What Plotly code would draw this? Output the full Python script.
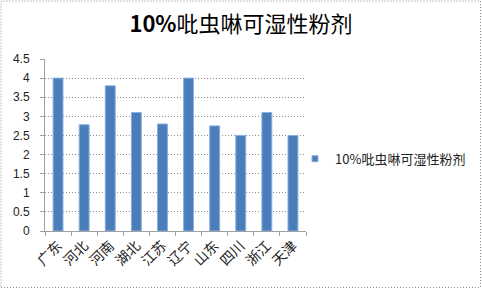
import plotly.graph_objects as go

categories = ["广东", "河北", "河南", "湖北", "江苏", "辽宁", "山东", "四川", "浙江", "天津"]
values = [4.0, 2.78, 3.8, 3.1, 2.8, 4.0, 2.75, 2.5, 3.1, 2.5]
series_name = "10%吡虫啉可湿性粉剂"
y_ticks = [0, 0.5, 1, 1.5, 2, 2.5, 3, 3.5, 4, 4.5]
y_tick_labels = ["0", "0.5", "1", "1.5", "2", "2.5", "3", "3.5", "4", "4.5"]

W, H = 482, 289
L, R, T, B = 45, 306, 59, 231
BAR_COLOR = "#4A7EBB"

fig = go.Figure()
fig.add_trace(go.Bar(
    x=categories, y=values, name=series_name,
    marker=dict(color=BAR_COLOR, line=dict(color="#8AB0DE", width=1)),
    showlegend=False,
))
fig.add_trace(go.Scatter(
    x=[None], y=[None], mode="markers", name=series_name,
    marker=dict(symbol="square", size=6, color=BAR_COLOR,
                line=dict(color="#8AB0DE", width=1)),
    showlegend=True,
))

pw, ph = R - L, B - T
fig.add_shape(type="rect", xref="paper", yref="paper",
              x0=(1 - L) / pw, x1=(W - 1.5 - L) / pw,
              y0=(B - (H - 1.5)) / ph, y1=(B - 1) / ph,
              line=dict(color="#8C8C8C", width=1, dash="1px,2px"), layer="below")

fig.update_layout(
    width=W, height=H, autosize=False,
    margin=dict(l=L, r=W - R, t=T, b=H - B, autoexpand=False),
    paper_bgcolor="white", plot_bgcolor="white",
    title=dict(text="<b>10%</b>吡虫啉可湿性粉剂", x=0.5, xanchor="center",
               y=1 - 24 / H, yanchor="middle",
               font=dict(family="Noto Sans CJK SC", size=22, color="black")),
    bargap=0.62,
    font=dict(family="Liberation Sans", size=12, color="#222"),
    legend=dict(x=(295 - L) / pw, xanchor="left", y=0.42, yanchor="middle",
                font=dict(family="Noto Sans CJK SC", size=13, color="#222"),
                itemwidth=30, bgcolor="rgba(0,0,0,0)"),
    xaxis=dict(showline=True, linecolor="#A0A0A0", linewidth=1,
               ticks="outside", ticklen=4, tickcolor="#A0A0A0",
               tickson="boundaries", tickangle=-45, automargin=False,
               tickfont=dict(family="Noto Sans CJK SC", size=14, color="#222"),
               showgrid=False),
    yaxis=dict(range=[0, 4.5], tickvals=y_ticks, ticktext=y_tick_labels,
               showline=True, linecolor="#A0A0A0", linewidth=1,
               ticks="outside", ticklen=4, tickcolor="#A0A0A0",
               ticklabelstandoff=8, automargin=False,
               showgrid=True, gridcolor="#8C8C8C", griddash="1px,2px", gridwidth=1,
               zeroline=False,
               tickfont=dict(family="Liberation Sans", size=12, color="#222")),
)

fig.write_html("out.html")
